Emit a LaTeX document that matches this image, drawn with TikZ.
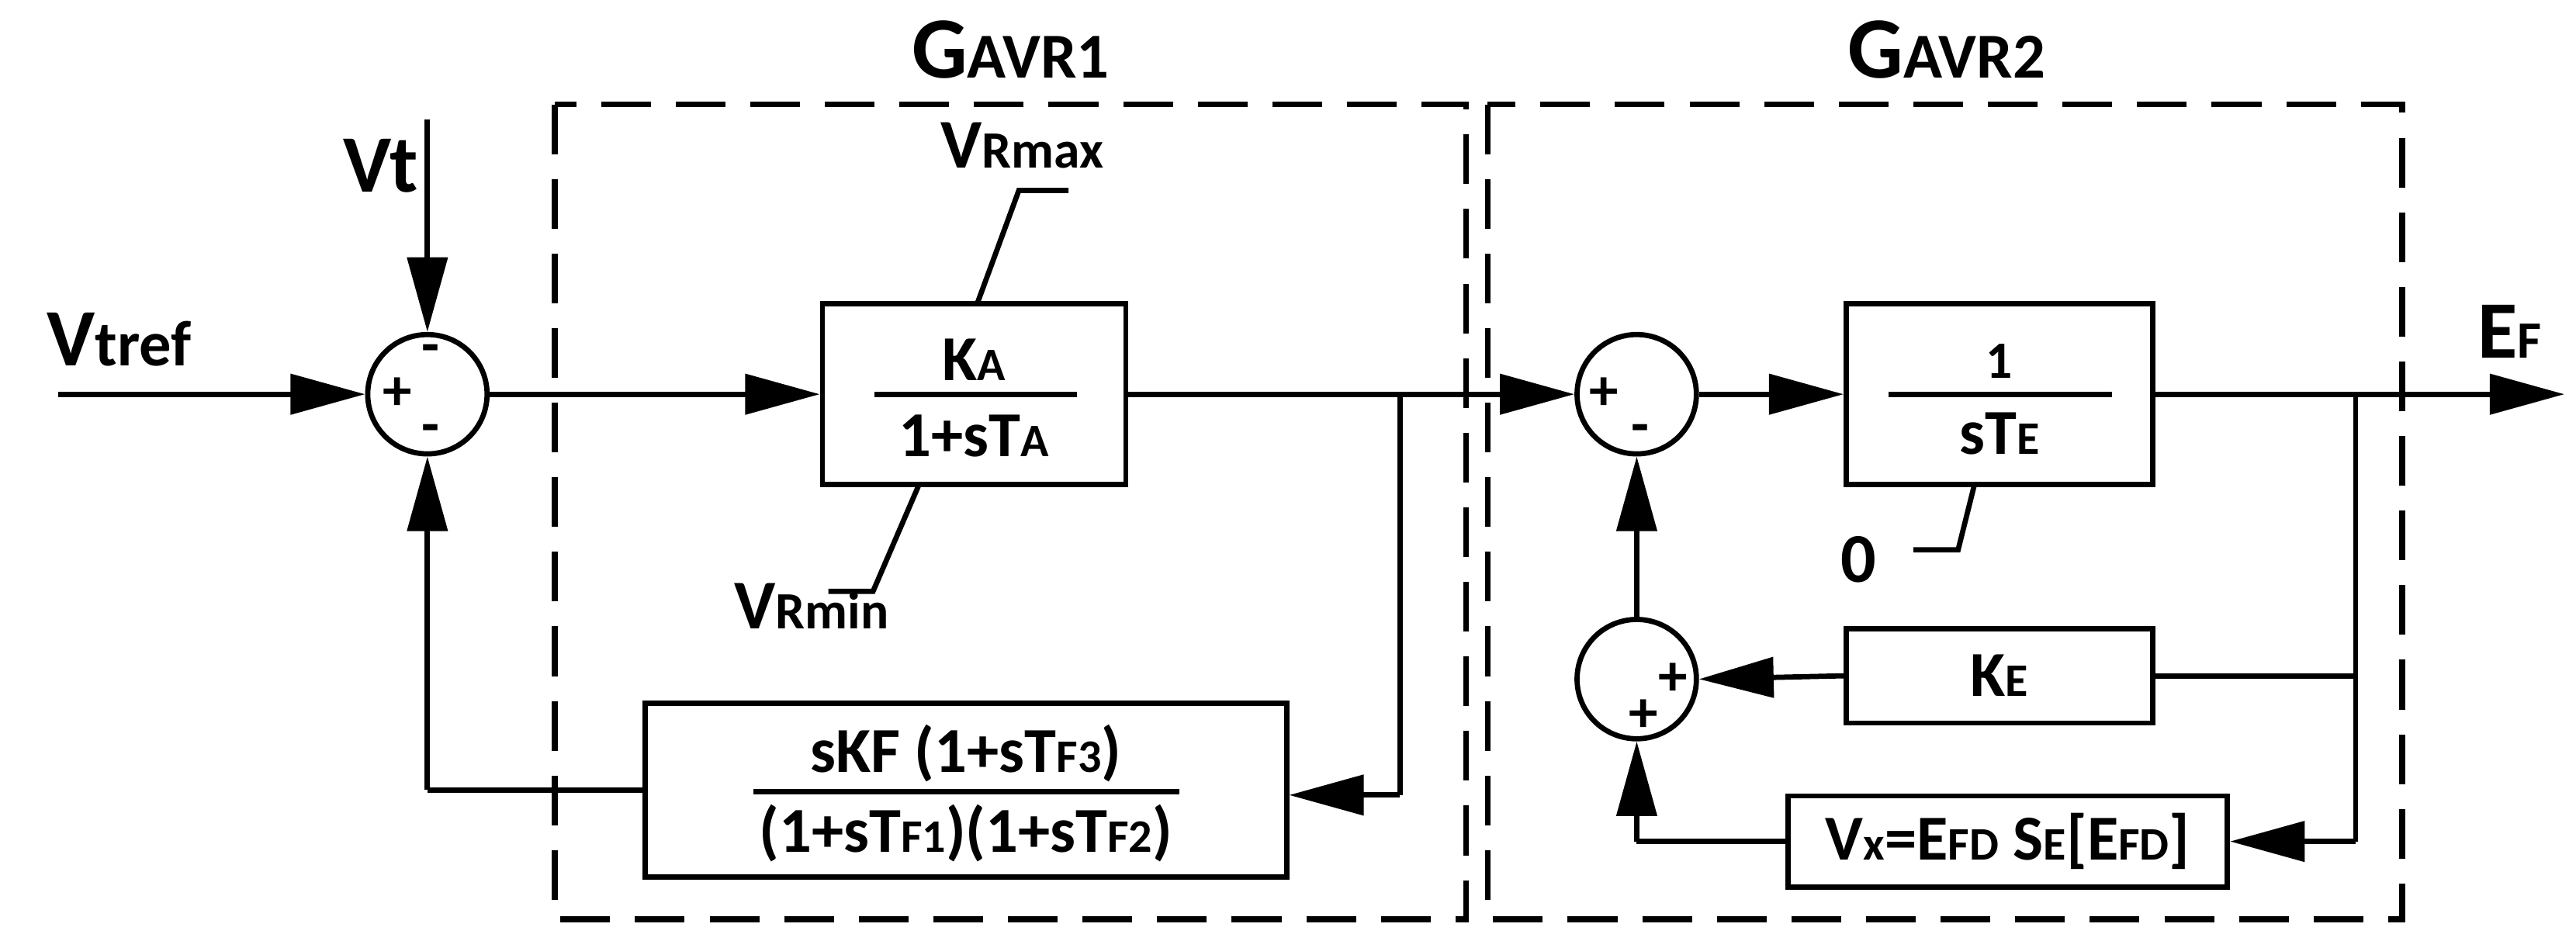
\documentclass[tikz,border=0pt]{standalone}
\usepackage{fontspec}
\setmainfont{Carlito}
\usetikzlibrary{arrows.meta}
\begin{document}
\begin{tikzpicture}[x=0.01cm,y=-0.01cm,line width=0.9pt,
  every node/.style={font=\bfseries},
  arr/.style={-{Triangle[length=0.45cm,width=0.24cm]}},
  sum/.style={draw,circle,minimum size=0.72cm,inner sep=0pt},
  blk/.style={draw,rectangle,inner sep=0pt},
  dbox/.style={draw,dashed,dash pattern=on 0.3cm off 0.15cm,line width=1pt},
  lbl/.style={font=\bfseries\fontsize{14}{16}\selectfont},
  sgn/.style={font=\bfseries\fontsize{10}{12}\selectfont,inner sep=0pt}]
\useasboundingbox (0,0) rectangle (1555,572);
% dashed boxes
\draw[dbox] (335,63) rectangle (885,555);
\draw[dbox] (898,63) rectangle (1450,555);
\node[font=\bfseries\fontsize{15}{16}\selectfont] (g1) at (610,30) {G{\fontsize{11}{12}\selectfont AVR1}};
\node[font=\bfseries\fontsize{15}{16}\selectfont] (g2) at (1175,30) {G{\fontsize{11}{12}\selectfont AVR2}};
% sums
\node[sum] (s1) at (258,238) {};
\node[sum] (s2) at (988,238) {};
\node[sum] (s3) at (988,410) {};
\node[sgn] at (240,238) {+};
\node[sgn] at (260,214) {-};
\node[sgn] at (260,262) {-};
\node[sgn] at (968,238) {+};
\node[sgn] at (990,262) {-};
\node[sgn] at (1010,410) {+};
\node[sgn] at (992,432) {+};
% blocks
\node[blk,minimum width=1.83cm,minimum height=1.09cm] (ka) at (588,238) {};
\node[font=\bfseries\fontsize{11}{12}\selectfont] at (588,217) {K{\fontsize{8}{9}\selectfont A}};
\node[font=\bfseries\fontsize{11}{12}\selectfont] at (588,263) {1+sT{\fontsize{8}{9}\selectfont A}};
\draw (528,238) -- (650,238);
\node[blk,minimum width=3.87cm,minimum height=1.05cm] (kf) at (583,477) {};
\node[font=\bfseries\fontsize{11}{12}\selectfont] at (583,455) {sKF (1+sT{\fontsize{8}{9}\selectfont F3})};
\node[font=\bfseries\fontsize{11}{12}\selectfont] at (583,503) {(1+sT{\fontsize{8}{9}\selectfont F1})(1+sT{\fontsize{8}{9}\selectfont F2})};
\draw (455,478) -- (712,478);
\node[blk,minimum width=1.85cm,minimum height=1.09cm] (te) at (1207,238) {};
\node[font=\bfseries\fontsize{9}{10}\selectfont] at (1207,218) {1};
\node[font=\bfseries\fontsize{11}{12}\selectfont] at (1207,262) {sT{\fontsize{8}{9}\selectfont E}};
\draw (1140,238) -- (1275,238);
\node[blk,minimum width=1.85cm,minimum height=0.57cm] (ke) at (1207,408) {\fontsize{11}{12}\selectfont K{\fontsize{8}{9}\selectfont E}};
\node[blk,minimum width=2.65cm,minimum height=0.55cm] (vx) at (1212,508) {\fontsize{11}{12}\selectfont V{\fontsize{8}{9}\selectfont x}=E{\fontsize{8}{9}\selectfont FD} S{\fontsize{8}{9}\selectfont E}[E{\fontsize{8}{9}\selectfont FD}]};
% labels
\node[lbl] (vtref) at (72,205) {V{\fontsize{11}{12}\selectfont tref}};
\node[lbl] (vt) at (230,100) {Vt};
\node[lbl] (ef) at (1515,200) {E{\fontsize{9}{10}\selectfont F}};
\node[font=\bfseries\fontsize{12}{13}\selectfont] (vmax) at (617,88) {V{\fontsize{9}{10}\selectfont Rmax}};
\node[font=\bfseries\fontsize{12}{13}\selectfont] (vmin) at (490,366) {V{\fontsize{9}{10}\selectfont Rmin}};
\node[font=\bfseries\fontsize{12}{13}\selectfont] (zero) at (1122,338) {0};
% coordinates
\coordinate (in) at (35,238);
\coordinate (vttop) at (258,72);
\coordinate (b1) at (845,238);
\coordinate (b1d) at (845,480);
\coordinate (f1) at (258,477);
\coordinate (out) at (1548,238);
\coordinate (b2) at (1422,238);
\coordinate (b2k) at (1422,408);
\coordinate (b2v) at (1422,508);
\coordinate (v1) at (988,508);
% connectors
\draw[arr] (in) -- (s1.west);
\draw[arr] (vttop) -- (s1.north);
\draw[arr] (s1.east) -- (ka.west);
\draw[arr] (ka.east) -- (s2.west);
\draw (b1) -- (b1d);
\draw[arr] (b1d) -- (kf.east |- b1d);
\draw (kf.west |- f1) -- (f1);
\draw[arr] (f1) -- (s1.south);
\draw[arr] (s2.east) -- (te.west);
\draw[arr] (te.east) -- (out);
\draw (b2) -- (b2v);
\draw (b2k) -- (ke.east);
\draw[arr] (ke.west) -- (s3.east);
\draw[arr] (b2v) -- (vx.east);
\draw (vx.west) -- (v1);
\draw[arr] (v1) -- (s3.south);
\draw[arr] (s3.north) -- (s2.south);
% limiter leaders
\draw (590,183) -- (615,115) -- (645,115);
\draw (555,292) -- (527,357) -- (500,357);
\draw (1192,292) -- (1182,332) -- (1155,332);
\end{tikzpicture}
\end{document}
